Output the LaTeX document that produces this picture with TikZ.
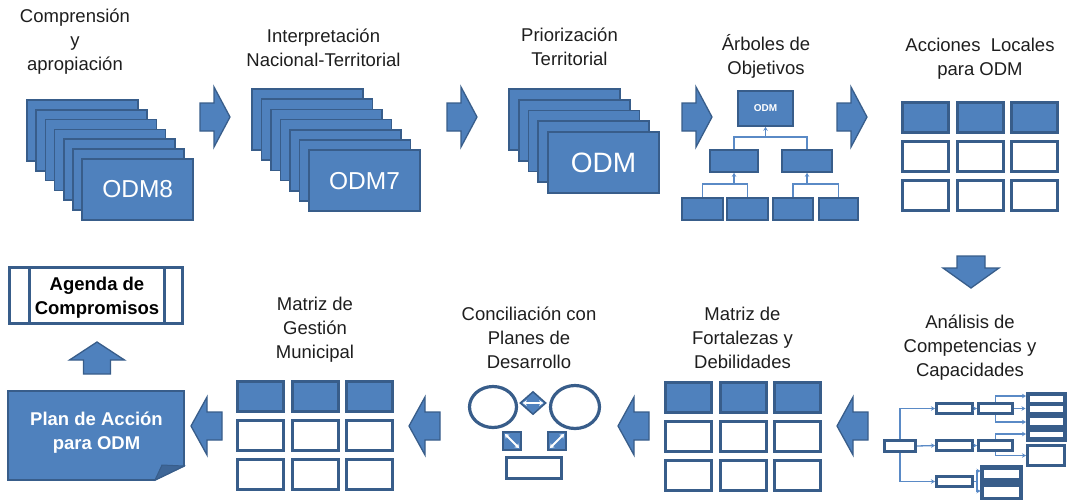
\documentclass[tikz,border=0pt]{standalone}
\usepackage{fontspec}
\setmainfont{Liberation Sans}
\usetikzlibrary{arrows.meta,shapes.geometric,calc}
\definecolor{fillb}{HTML}{4F81BD}
\definecolor{edgeb}{HTML}{385D8A}
\definecolor{lineb}{HTML}{5A8AC6}
\definecolor{txt}{HTML}{1E1E1E}
\tikzset{
  card/.style={draw=edgeb, fill=fillb, line width=1.6pt},
  cardnode/.style={card, minimum width=111pt, minimum height=61pt, inner sep=0pt, text=white},
  title/.style={align=center, font=\fontsize{18.5}{24}\selectfont, text=txt, inner sep=0pt},
  boldtxt/.style={align=center, font=\bfseries\fontsize{18.5}{23.5}\selectfont, inner sep=0pt},
  barrow/.style={draw=edgeb, fill=fillb, line width=1.3pt, line join=miter},
  rarr/.pic={\path[barrow] (0,-14) -- (14,-14) -- (14,-30) -- (30,0) -- (14,30) -- (14,14) -- (0,14) -- cycle;},
  larr/.pic={\path[barrow] (0,-14) -- (-15,-14) -- (-15,-29) -- (-31,0) -- (-15,29) -- (-15,14) -- (0,14) -- cycle;},
  uarr/.pic={\path[barrow] (-13.5,0) -- (-13.5,-14) -- (-27.5,-14) -- (0,-32) -- (27.5,-14) -- (13.5,-14) -- (13.5,0) -- cycle;},
  darr/.pic={\path[barrow] (-14,0) -- (-14,12) -- (-28,12) -- (0,32) -- (28,12) -- (14,12) -- (14,0) -- cycle;},
  cellF/.style={draw=edgeb, fill=fillb, line width=3pt, minimum width=46pt, minimum height=30pt, inner sep=0pt},
  cellW/.style={draw=edgeb, fill=white, line width=3pt, minimum width=46pt, minimum height=30pt, inner sep=0pt},
  tbox/.style={draw=edgeb, fill=fillb, line width=1.6pt, inner sep=0pt},
  tline/.style={draw=lineb, line width=1.3pt},
  tarrow/.style={tline, -{Stealth[length=4pt,width=4.5pt]}},
  abox/.style={draw=edgeb, fill=white, line width=3pt, inner sep=0pt},
  dbox/.style={draw=edgeb, fill=edgeb, line width=1pt, inner sep=0pt},
  wstrip/.style={fill=white, draw=none},
  ell/.style={ellipse, draw=edgeb, fill=white, line width=3.2pt, inner sep=0pt},
  sqbox/.style={draw=edgeb, fill=fillb, line width=2pt, minimum size=18pt, inner sep=0pt},
  warrow/.style={white, line width=1.8pt, {Stealth[length=4pt,width=5.5pt]}-{Stealth[length=4pt,width=5.5pt]}},
}
\newcommand{\mygrid}[3]{%
  \foreach \c in {0,1,2}{\node[cellF] (#3t\c) at ({#1+24.5+\c*54.5},{#2+16.5}) {};}
  \foreach \c in {0,1,2}{\foreach \r in {1,2}{\node[cellW] (#3\r\c) at ({#1+24.5+\c*54.5},{#2+16.5+\r*39}) {};}}
}
\begin{document}
\begin{tikzpicture}[x=1pt,y=-1pt]
\useasboundingbox (0,0) rectangle (1067,501);

% ---------- titles ----------
\node[title] (tcomp) at (75,41.5) {Comprensión\\y\\apropiación};
\node[title] (tinterp) at (323.5,47.5) {Interpretación\\Nacional-Territorial};
\node[title] (tprior) at (569.5,46.5) {Priorización\\Territorial};
\node[title] (tarbol) at (766,56) {Árboles de\\Objetivos};
\node[title] (tacc) at (980,58.5) {Acciones~~Locales\\para ODM};
\node[title] (tanal) at (970,347.8) {Análisis de\\Competencias y\\Capacidades};
\node[title] (tfort) at (742.5,337.5) {Matriz de\\Fortalezas y\\Debilidades};
\node[title] (tconc) at (529,337.5) {Conciliación con\\Planes de\\Desarrollo};
\node[title] (tgest) at (315,330) {Matriz de\\Gestión\\Municipal};

% ---------- stacks ----------
\foreach \i in {0,...,5} \draw[card] ({27+\i*9.2},{100+\i*9.8}) rectangle ++(111,61);
\node[cardnode, font=\fontsize{24.5}{28}\selectfont] (odm8) at (137.7,189.3) {ODM8};
\foreach \i in {0,...,5} \draw[card] ({252+\i*9.5},{89+\i*10.2}) rectangle ++(111,61);
\node[cardnode, font=\fontsize{24.5}{28}\selectfont] (odm7) at (364.5,180.7) {ODM7};
\foreach \i in {0,...,3} \draw[card] ({509+\i*9.75},{89+\i*10.75}) rectangle ++(111,61);
\node[cardnode, font=\fontsize{28}{32}\selectfont] (odm) at (603.5,162.5) {ODM};

% ---------- top arrows ----------
\pic at (200,117) {rarr};
\pic at (447,117) {rarr};
\pic at (682,117) {rarr};
\pic at (837,117) {rarr};

% ---------- tree ----------
\node[tbox, minimum width=55pt, minimum height=35pt, text=white, font=\bfseries\fontsize{10}{12}\selectfont] (t0) at (765.5,108.5) {ODM};
\node[tbox, minimum width=48pt, minimum height=22pt] (t1) at (734,161) {};
\node[tbox, minimum width=50pt, minimum height=22pt] (t2) at (807,161) {};
\node[tbox, minimum width=41pt, minimum height=22pt] (b1) at (702.5,209) {};
\node[tbox, minimum width=41pt, minimum height=22pt] (b2) at (747.5,209) {};
\node[tbox, minimum width=40pt, minimum height=22pt] (b3) at (793,209) {};
\node[tbox, minimum width=39pt, minimum height=22pt] (b4) at (838.5,209) {};
\coordinate (j0) at (765.5,137);
\coordinate (j1) at (734,184);
\coordinate (j2) at (807,184);
\draw[tline] (t1.north) |- (j0);
\draw[tline] (t2.north) |- (j0);
\draw[tarrow] (j0) -- (t0.south);
\draw[tline] (b1.north) |- (j1);
\draw[tline] (b2.north) |- (j1);
\draw[tarrow] (j1) -- (t1.south);
\draw[tline] (b3.north) |- (j2);
\draw[tline] (b4.north) |- (j2);
\draw[tarrow] (j2) -- (t2.south);

% ---------- grids ----------
\mygrid{901}{101}{ga}
\mygrid{664}{381}{gf}
\mygrid{236}{380}{gg}

% ---------- down / left / up arrows ----------
\pic at (971,256) {darr};
\pic at (868,426) {larr};
\pic at (649,426) {larr};
\pic at (440,426) {larr};
\pic at (222,426) {larr};
\pic at (97,374) {uarr};

% ---------- analysis tree ----------
\node[abox, minimum width=31pt, minimum height=11pt] (r0) at (900,446) {};
\node[abox, minimum width=36pt, minimum height=10pt] (l1a) at (954.5,408.5) {};
\node[abox, minimum width=36pt, minimum height=10pt] (l1b) at (954.5,445.5) {};
\node[abox, minimum width=36pt, minimum height=10pt] (l1c) at (954.5,481.5) {};
\node[abox, minimum width=34pt, minimum height=10pt] (l2a) at (995.5,408.5) {};
\node[abox, minimum width=34pt, minimum height=10pt] (l2b) at (995.5,445.5) {};
\node[dbox, minimum width=40pt, minimum height=49pt] (R1) at (1046,416.5) {};
\fill[wstrip] (1030,395.7) rectangle (1063,401.5);
\fill[wstrip] (1030,406) rectangle (1063,412);
\fill[wstrip] (1030,418.3) rectangle (1063,424.5);
\fill[wstrip] (1030,431.5) rectangle (1063,437);
\node[abox, minimum width=37pt, minimum height=20pt] (R2) at (1046,455.5) {};
\node[dbox, minimum width=42pt, minimum height=34pt] (R3) at (1001.5,482.5) {};
\fill[wstrip] (984,469.5) rectangle (1019,478);
\fill[wstrip] (984,486.5) rectangle (1019,496.5);
\coordinate (p1) at (1026,396);
\coordinate (p2) at (1026,422);
\coordinate (p3) at (1026,434);
\coordinate (q) at (977,481.5);
\coordinate (q1) at (980.5,471);
\coordinate (q2) at (980.5,491);
\draw[tarrow] (r0.north) |- (l1a.west);
\draw[tarrow] (r0.south) |- (l1c.west);
\draw[tarrow] (r0.east) -- (l1b.west);
\draw[tarrow] (l1a.east) -- (l2a.west);
\draw[tarrow] (l1b.east) -- (l2b.west);
\draw[tarrow] (l2a.north) |- (p1);
\draw[tarrow] (l2a.south) |- (p2);
\draw[tarrow] (l2a.east) -- (R1.west |- l2a.east);
\draw[tarrow] (l2b.north) |- (p3);
\draw[tarrow] (l2b.south) |- (R2.west);
\draw[tline] (l1c.east) -- (q);
\draw[tarrow] (q) |- (q1);
\draw[tarrow] (q) |- (q2);

% ---------- conciliation icon ----------
\node[ell, minimum width=47pt, minimum height=41pt] (el1) at (493,407) {};
\node[ell, minimum width=49pt, minimum height=43pt] (el2) at (575,407) {};
\node[diamond, draw=edgeb, fill=fillb, line width=1.5pt, minimum width=26pt, minimum height=23pt, inner sep=0pt] (dm) at (533,403) {};
\draw[warrow] ($(dm.west)+(3.5,0)$) -- ($(dm.east)+(-3.5,0)$);
\node[sqbox] (sq1) at (512,441) {};
\node[sqbox] (sq2) at (557,441) {};
\draw[warrow] ($(sq1.north west)+(3,3)$) -- ($(sq1.south east)+(-3,-3)$);
\draw[warrow] ($(sq2.north east)+(-3,3)$) -- ($(sq2.south west)+(3,-3)$);
\node[abox, minimum width=55pt, minimum height=21pt] (cr) at (534,468) {};

% ---------- plan de accion ----------
\draw[draw=edgeb, fill=fillb, line width=1.6pt, line join=miter] (8,391) -- (184,391) -- (184,466) -- (155,480) -- (8,480) -- cycle;
\draw[draw=edgeb, fill=edgeb!75!fillb, line width=1pt] (155,480) -- (162,465) -- (184,466) -- cycle;
\node[boldtxt, text=white] (plan) at (96.5,432.5) {Plan de Acción\\para ODM};

% ---------- agenda ----------
\node[draw=edgeb, fill=white, line width=3pt, minimum width=173pt, minimum height=56pt, inner sep=0pt] (agbox) at (96,295.5) {};
\draw[edgeb, line width=3.5pt] ($(agbox.north west)+(21.5,0)$) -- ($(agbox.south west)+(21.5,0)$);
\draw[edgeb, line width=3.5pt] ($(agbox.north east)+(-19.5,0)$) -- ($(agbox.south east)+(-19.5,0)$);
\node[boldtxt, text=black] (agenda) at (97,297.5) {Agenda de\\Compromisos};
\end{tikzpicture}
\end{document}
